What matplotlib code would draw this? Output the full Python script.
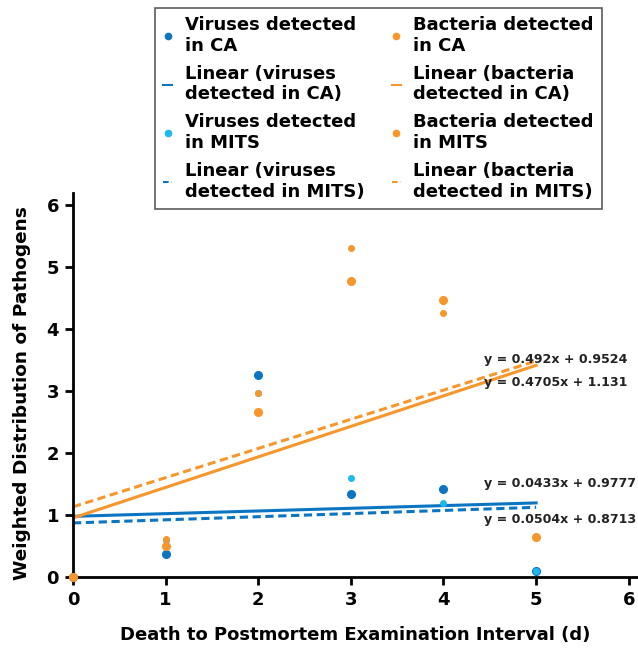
import matplotlib
matplotlib.use("Agg")
import matplotlib.pyplot as plt
import numpy as np

plt.rcParams['font.family'] = ['DejaVu Sans']
plt.rcParams['font.weight'] = 'bold'

# data
days = [0, 1, 2, 3, 4, 5]
virus_ca = [0, 0.37, 3.26, 1.34, 1.42, 0.1]
bact_ca = [0, 0.50, 2.66, 4.77, 4.47, 0.65]
virus_mits = [0, 0.60, 2.97, 1.60, 1.19, 0.1]
bact_mits = [0, 0.62, 2.96, 5.30, 4.26, 0.65]

# trendline coefficients (slope, intercept)
fit_virus_ca = (0.0433, 0.9777)
fit_bact_ca = (0.492, 0.9524)
fit_virus_mits = (0.0504, 0.8713)
fit_bact_mits = (0.4705, 1.131)

eq_labels = ['y = 0.492x + 0.9524', 'y = 0.4705x + 1.131',
             'y = 0.0433x + 0.9777', 'y = 0.0504x + 0.8713']
eq_y = [3.5, 3.13, 1.5, 0.92]

blue = '#0b75c2'
cyan = '#1db8ec'
orange = '#f7962a'

fig = plt.figure(figsize=(6.38, 6.48), dpi=100)
ax = fig.add_axes([0.1144, 0.1096, 0.8856, 0.5924])

xx = np.array([0, 5])
l1, = ax.plot(xx, fit_virus_ca[0]*xx + fit_virus_ca[1], color=blue, lw=2.2, zorder=2)
l2, = ax.plot(xx, fit_bact_ca[0]*xx + fit_bact_ca[1], color=orange, lw=2.2, zorder=2)
l3, = ax.plot(xx, fit_virus_mits[0]*xx + fit_virus_mits[1], color=blue, lw=2.2,
              dashes=(2.7, 1.5), zorder=2)
l4, = ax.plot(xx, fit_bact_mits[0]*xx + fit_bact_mits[1], color=orange, lw=2.2,
              dashes=(2.7, 1.5), zorder=2)

s1, = ax.plot(days, virus_ca, 'o', color=blue, ms=5.5, ls='none', clip_on=False, zorder=3)
s3, = ax.plot(days, virus_mits, 'o', color=cyan, ms=4, ls='none', clip_on=False, zorder=3)
s4, = ax.plot(days, bact_mits, 'o', color=orange, ms=4, ls='none', clip_on=False, zorder=4)
s2, = ax.plot(days, bact_ca, 'o', color=orange, ms=5.5, ls='none', clip_on=False, zorder=4)

for t, yv in zip(eq_labels, eq_y):
    ax.text(4.44, yv, t, fontsize=9.1, fontweight='bold', va='center', ha='left',
            color='#222222')

ax.set_xlim(0, 6.1)
ax.set_ylim(0, 6.19)
ax.set_xticks(range(7))
ax.set_yticks(range(7))
for sp in ['top', 'right']:
    ax.spines[sp].set_visible(False)
for sp in ['left', 'bottom']:
    ax.spines[sp].set_linewidth(2)
ax.tick_params(width=2, length=6, labelsize=13, pad=4)
for lab in ax.get_xticklabels() + ax.get_yticklabels():
    lab.set_fontweight('bold')
ax.set_xlabel('Death to Postmortem Examination Interval (d)', fontsize=13,
              fontweight='bold', labelpad=12)
ax.set_ylabel('Weighted Distribution of Pathogens', fontsize=13.3,
              fontweight='bold')
ax.yaxis.set_label_coords(-0.074, 0.479)

handles = [s1, l1, s3, l3, s2, l2, s4, l4]
labels = ['Viruses detected\nin CA', 'Linear (viruses\ndetected in CA)',
          'Viruses detected\nin MITS', 'Linear (viruses\ndetected in MITS)',
          'Bacteria detected\nin CA', 'Linear (bacteria\ndetected in CA)',
          'Bacteria detected\nin MITS', 'Linear (bacteria\ndetected in MITS)']
leg = fig.legend(handles, labels, ncol=2, loc='upper left',
                 bbox_to_anchor=(0.243, 0.988), borderaxespad=0,
                 frameon=True, fancybox=False,
                 edgecolor='#333333', handlelength=0.5, handletextpad=0.7,
                 columnspacing=1.5, labelspacing=0.55, borderpad=0.45,
                 prop={'size': 13, 'weight': 'bold'})
leg.get_frame().set_linewidth(1.2)
for h in leg.legend_handles:
    h.set_linewidth(1.5)
    h.set_markersize(4.5)

fig.savefig('out.png', dpi=100)
